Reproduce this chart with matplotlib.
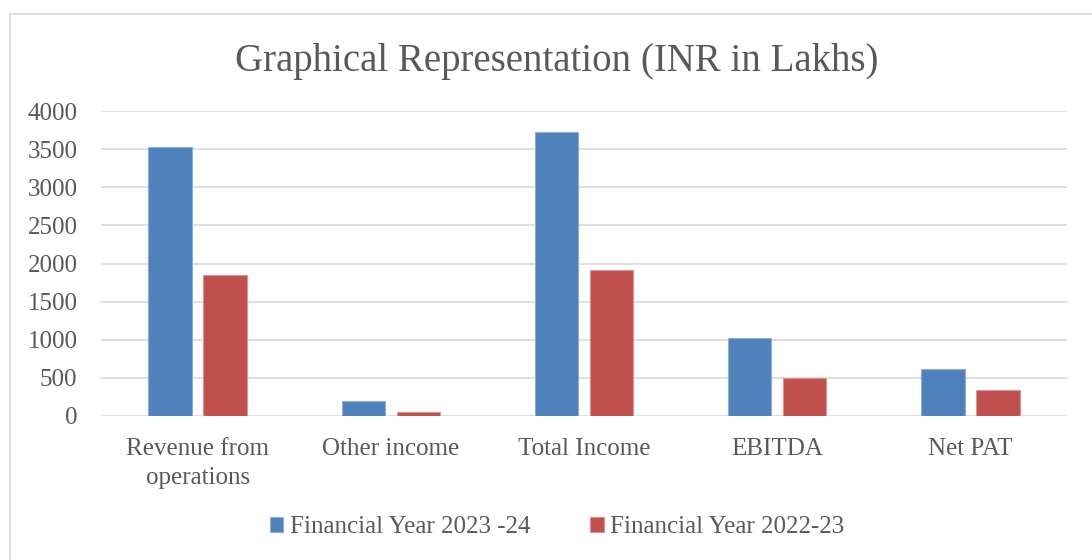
import matplotlib
matplotlib.use("Agg")
import matplotlib.pyplot as plt
import numpy as np

categories = ["Revenue from\noperations", "Other income", "Total Income", "EBITDA", "Net PAT"]
fy_2023_24 = [3527, 193, 3728, 1025, 610]
fy_2022_23 = [1853, 48, 1910, 499, 338]
series_names = ["Financial Year 2023 -24", "Financial Year 2022-23"]
yticks = [0, 500, 1000, 1500, 2000, 2500, 3000, 3500, 4000]

plt.rcParams["font.family"] = ["Liberation Serif", "DejaVu Serif"]
txt = "#595959"

fig = plt.figure(figsize=(10.92, 5.6), dpi=100)
ax = fig.add_axes([101 / 1092, 1 - 415.7 / 560, 966 / 1092, (415.7 - 111.3) / 560])

# chart border
fig.patches.append(plt.Rectangle((10 / 1092, -0.1), 1.2, 1 - 14 / 560 + 0.1,
                                 transform=fig.transFigure, fill=False,
                                 edgecolor="#d9d9d9", linewidth=1.2))

x = np.arange(len(categories))
w = 0.225
off = 0.1425
ax.bar(x - off, fy_2023_24, w, color="#4F81BD", edgecolor="#8eaed6", linewidth=0.8,
       label=series_names[0], zorder=3)
ax.bar(x + off, fy_2022_23, w, color="#C0504D", edgecolor="#dc9492", linewidth=0.8,
       label=series_names[1], zorder=3)

ax.set_xlim(-0.5, len(categories) - 0.5)
ax.set_ylim(0, 4000)
ax.set_yticks(yticks)
ax.set_yticklabels([str(v) for v in yticks])
ax.set_xticks(x)
ax.set_xticklabels(categories, linespacing=1.4)
ax.tick_params(axis="both", length=0, labelsize=18, colors=txt)
ax.tick_params(axis="x", pad=16)
ax.tick_params(axis="y", pad=17)
ax.grid(axis="y", color="#d9d9d9", linewidth=1.2, zorder=0)
for s in ax.spines.values():
    s.set_visible(False)

fig.text(557 / 1092, 1 - 62 / 560, "Graphical Representation (INR in Lakhs)",
         ha="center", va="center", fontsize=28, color=txt)

fig.legend(loc="center", bbox_to_anchor=(557 / 1092, 1 - 527 / 560), ncol=2,
           frameon=False, fontsize=18, labelcolor=txt, handlelength=0.55,
           handleheight=0.55, handletextpad=0.25, columnspacing=2.4)

fig.savefig("out.png", dpi=100)
